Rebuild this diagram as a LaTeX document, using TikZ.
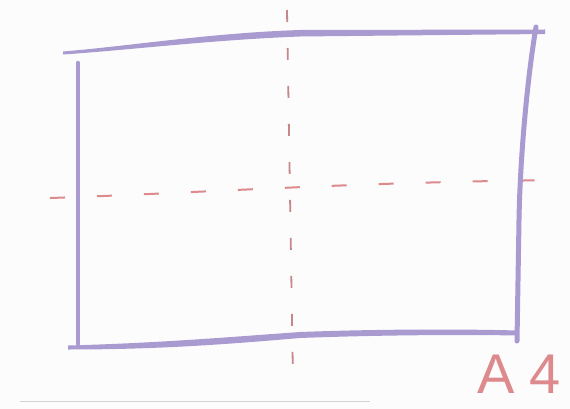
\documentclass[tikz,border=0pt]{standalone}
\usepackage{fontspec}
\setmainfont{Liberation Sans}
\definecolor{lav}{HTML}{A99AD0}
\definecolor{pinkred}{HTML}{DC8A8C}
\definecolor{bg}{HTML}{FCFCFD}
\tikzset{
  penline/.style={draw=lav, line width=5pt, line cap=round},
  guideline/.style={draw=pinkred, line width=2pt, dash pattern=on 15pt off 32pt},
  guidevert/.style={draw=pinkred!75!gray, line width=1.8pt, dash pattern=on 12pt off 26pt},
}
\begin{document}
\begin{tikzpicture}[x=1pt,y=-1pt]
\fill[bg] (0,0) rectangle (570,409);
\useasboundingbox (0,0) rectangle (570,409);
% guides
\coordinate (hl) at (50,198);
\coordinate (hr) at (565,180);
\draw[guideline] (hl) .. controls (200,193) and (350,182) .. (hr);
\coordinate (vt) at (287,10);
\coordinate (vb) at (293,380);
\draw[guidevert] (vt) .. controls (289,130) and (291,260) .. (vb);
% top stroke (tapered)
\fill[lav] (63,51.5) .. controls (130,46) and (210,33) .. (300,30) -- (545,29.5) -- (545,34) -- (300,36.5) .. controls (210,40) and (130,50) .. (63,54.5) -- cycle;
% left stroke
\draw[penline, line width=4.5pt] (78,63) -- (78,344);
% right stroke
\draw[penline, line width=5pt] (536,27) .. controls (527,80) and (520,160) .. (519,220) -- (517,341);
% bottom stroke
\fill[lav] (68,345.5) .. controls (160,343) and (230,337) .. (300,332) .. controls (380,329) and (460,329) .. (518,330.5) -- (518,335.5) .. controls (460,334.5) and (380,335) .. (300,338) .. controls (230,344) and (160,349.5) .. (68,349.5) -- cycle;
% label
\node[text=pinkred, font=\fontsize{56}{56}\selectfont, inner sep=0pt, anchor=center] (a4) at (519,374) {A\hspace{14pt}4};
% tiny footer line
\draw[gray!35, line width=0.8pt] (20,401) -- (370,401);
\end{tikzpicture}
\end{document}
